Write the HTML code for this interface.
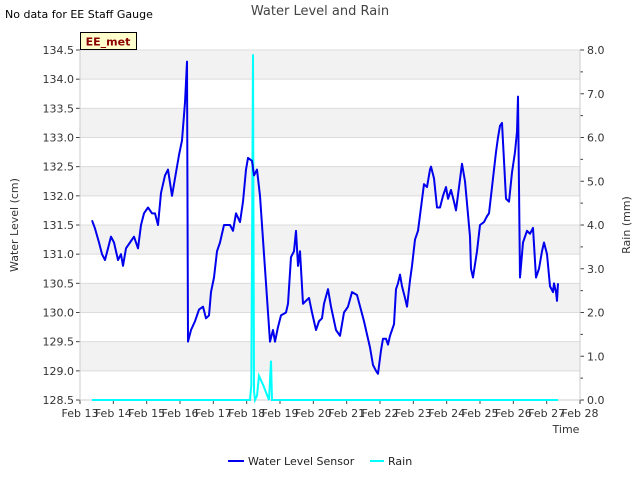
<!DOCTYPE html>
<html><head><meta charset="utf-8"><style>
body{margin:0;background:#fff;font-family:"Liberation Sans","DejaVu Sans",sans-serif;}
svg text{font-family:"DejaVu Sans","Liberation Sans",sans-serif;}
</style></head><body>
<svg id="chart" width="640" height="480" xmlns="http://www.w3.org/2000/svg">
<rect width="640" height="480" fill="#fff"/>
<g id="bands"></g>
<g id="grid"></g>
<g id="axes"></g>
<g id="series"></g>
<text x="320" y="15" text-anchor="middle" font-size="13" fill="#444">Water Level and Rain</text>
<text x="5" y="18" font-size="11" fill="#000">No data for EE Staff Gauge</text>
<g>
<rect x="80.5" y="32.5" width="56" height="17" fill="#ffffcc" stroke="#000"/>
<text x="108" y="45.5" text-anchor="middle" font-size="11" font-weight="bold" fill="#8b0000">EE_met</text>
</g>
<text transform="translate(18,225) rotate(-90)" text-anchor="middle" font-size="11" fill="#333">Water Level (cm)</text>
<text transform="translate(630,225) rotate(-90)" text-anchor="middle" font-size="11" fill="#333">Rain (mm)</text>
<text x="566" y="433" text-anchor="middle" font-size="11" fill="#333">Time</text>
<g>
<g>
<line x1="228" y1="461" x2="244" y2="461" stroke="#0000ee" stroke-width="2"/>
<text x="248" y="465" font-size="11" fill="#222">Water Level Sensor</text></g>
<g>
<line x1="370" y1="461" x2="384" y2="461" stroke="#00ffff" stroke-width="2"/>
<text x="388" y="465" font-size="11" fill="#222">Rain</text></g>
</g>
</svg>
<script>
const wlDays=[0.36,0.45,0.57,0.66,0.75,0.84,0.93,1.02,1.14,1.23,1.29,1.38,1.5,1.62,1.74,1.83,1.92,2.04,2.16,2.25,2.34,2.43,2.55,2.64,2.76,2.88,2.97,3.06,3.15,3.21,3.24,3.33,3.45,3.57,3.69,3.78,3.87,3.93,4.02,4.11,4.2,4.32,4.41,4.5,4.59,4.68,4.8,4.89,4.98,5.04,5.16,5.22,5.31,5.4,5.7,5.79,5.85,5.94,6.03,6.18,6.24,6.33,6.42,6.48,6.54,6.6,6.69,6.78,6.87,6.96,7.08,7.17,7.26,7.32,7.44,7.53,7.68,7.8,7.92,8.04,8.16,8.31,8.52,8.7,8.79,8.88,8.94,9.03,9.09,9.18,9.24,9.3,9.36,9.42,9.48,9.54,9.6,9.66,9.75,9.81,9.9,9.96,10.05,10.14,10.23,10.32,10.41,10.5,10.53,10.62,10.71,10.8,10.89,10.98,11.04,11.13,11.22,11.28,11.37,11.46,11.55,11.7,11.73,11.79,11.91,12.0,12.12,12.21,12.27,12.36,12.48,12.54,12.6,12.66,12.72,12.78,12.87,12.96,13.05,13.11,13.14,13.2,13.29,13.41,13.5,13.59,13.68,13.77,13.86,13.92,14.01,14.1,14.19,14.22,14.28,14.31,14.34];
const wlValues=[131.58,131.44,131.2,131.0,130.9,131.1,131.3,131.2,130.9,131.0,130.8,131.1,131.2,131.3,131.1,131.5,131.7,131.8,131.7,131.7,131.5,132.05,132.35,132.45,132.0,132.4,132.7,132.95,133.6,134.3,129.5,129.7,129.85,130.05,130.1,129.9,129.95,130.35,130.6,131.05,131.2,131.5,131.5,131.5,131.4,131.7,131.55,131.9,132.45,132.65,132.6,132.35,132.45,132.0,129.5,129.7,129.5,129.75,129.95,130.0,130.15,130.95,131.05,131.4,130.8,131.05,130.15,130.2,130.25,130.0,129.7,129.85,129.9,130.15,130.4,130.1,129.7,129.6,130.0,130.1,130.35,130.3,129.85,129.4,129.1,129.0,128.95,129.35,129.55,129.55,129.45,129.6,129.7,129.8,130.4,130.5,130.65,130.45,130.25,130.1,130.55,130.8,131.25,131.4,131.8,132.2,132.15,132.45,132.5,132.3,131.8,131.8,132.0,132.15,131.95,132.1,131.9,131.75,132.15,132.55,132.25,131.3,130.75,130.6,131.05,131.5,131.55,131.65,131.7,132.15,132.75,133.0,133.2,133.25,132.6,131.95,131.9,132.4,132.75,133.1,133.7,130.6,131.2,131.4,131.35,131.45,130.6,130.75,131.05,131.2,131.0,130.45,130.35,130.5,130.35,130.2,130.5];
const rainDays=[0.36,5.1,5.14,5.19,5.22,5.25,5.31,5.37,5.49,5.67,5.73,5.76,14.34];
const rainValues=[0,0,0.35,7.9,0.2,0,0.1,0.55,0.35,0,0.9,0,0];
const xTickLabels=["Feb 13","Feb 14","Feb 15","Feb 16","Feb 17","Feb 18","Feb 19","Feb 20","Feb 21","Feb 22","Feb 23","Feb 24","Feb 25","Feb 26","Feb 27","Feb 28"];
const yTicks=[128.5,129.0,129.5,130.0,130.5,131.0,131.5,132.0,132.5,133.0,133.5,134.0,134.5];
const y2Ticks=[0,1,2,3,4,5,6,7,8];

const L=80,R=580,T=50,B=400;
const NS="http://www.w3.org/2000/svg";
const xS=d=>L+(R-L)*d/15;
const yS=v=>B-(B-T)*(v-128.5)/6;
const y2S=v=>B-(B-T)*v/8;
function mk(tag,attrs,parent){const e=document.createElementNS(NS,tag);for(const k in attrs)e.setAttribute(k,attrs[k]);document.getElementById(parent).appendChild(e);return e;}

for(let i=0;i<yTicks.length-1;i++){
  if(i%2===1){
    const b=mk('rect',{x:L,y:yS(yTicks[i+1]),width:R-L,height:yS(yTicks[i])-yS(yTicks[i+1]),fill:'#f2f2f2'},'bands');
    
    
  }
}
yTicks.forEach(v=>{
  const g=mk('line',{x1:L,x2:R,y1:yS(v),y2:yS(v),stroke:'#dcdcdc','stroke-width':1},'grid');
  
  
  mk('line',{x1:L-4,x2:L,y1:yS(v),y2:yS(v),stroke:'#444'},'axes');
  const t=mk('text',{x:L-6,y:yS(v)+4,'text-anchor':'end','font-size':11,fill:'#333'},'axes');
  t.textContent=v.toFixed(1);
  
  
});
y2Ticks.forEach(v=>{
  mk('line',{x1:R,x2:R+4,y1:y2S(v),y2:y2S(v),stroke:'#444'},'axes');
  if(v<8)mk('line',{x1:R,x2:R+3,y1:y2S(v+0.5),y2:y2S(v+0.5),stroke:'#444'},'axes');
  const t=mk('text',{x:R+7,y:y2S(v)+4,'font-size':11,fill:'#333'},'axes');
  t.textContent=v.toFixed(1);
  
  
});
xTickLabels.forEach((lab,i)=>{
  mk('line',{x1:xS(i),x2:xS(i),y1:B,y2:B+4,stroke:'#444'},'axes');
  const t=mk('text',{x:xS(i),y:B+17,'text-anchor':'middle','font-size':11,fill:'#333'},'axes');
  t.textContent=lab;
  
  
});
mk('line',{x1:L,x2:L,y1:T,y2:B,stroke:'#ccc'},'axes');
mk('line',{x1:R,x2:R,y1:T,y2:B,stroke:'#ccc'},'axes');
mk('line',{x1:L,x2:R,y1:B,y2:B,stroke:'#ccc'},'axes');

const rp=mk('polyline',{points:rainDays.map((d,i)=>xS(d)+','+y2S(rainValues[i])).join(' '),fill:'none',stroke:'#00ffff','stroke-width':2},'series');


const wp=mk('polyline',{points:wlDays.map((d,i)=>xS(d)+','+yS(wlValues[i])).join(' '),fill:'none',stroke:'#0000ee','stroke-width':2,'stroke-linejoin':'round'},'series');


</script>
</body></html>
